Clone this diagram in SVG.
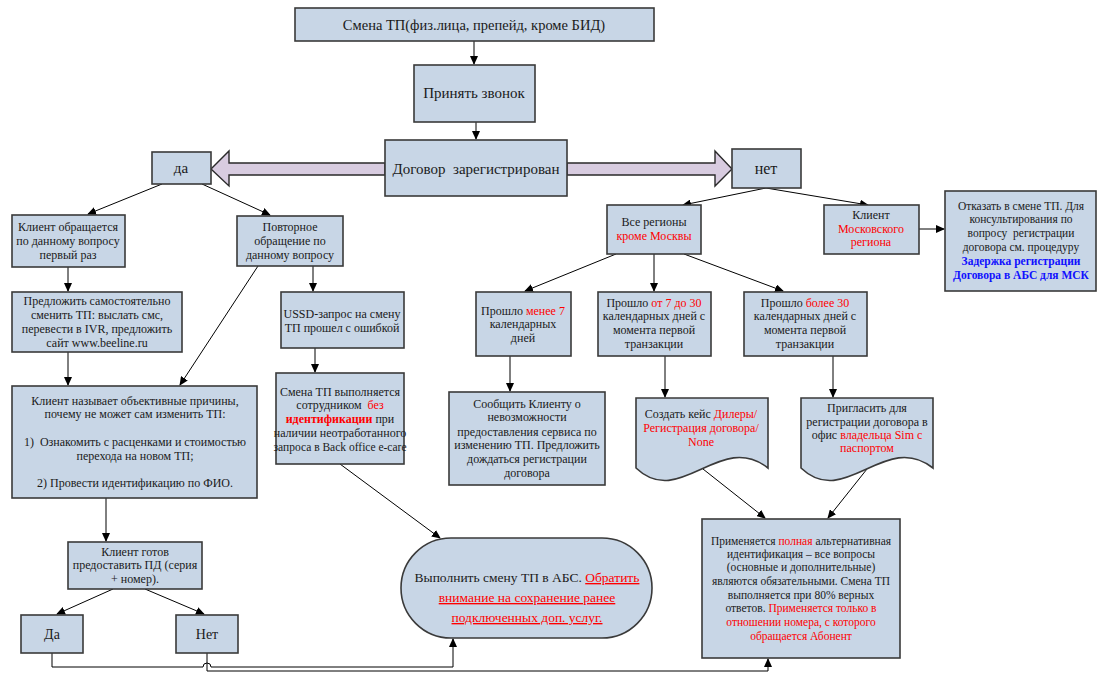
<svg xmlns="http://www.w3.org/2000/svg" width="1108" height="679" viewBox="0 0 1108 679">
<style>
.b{fill:#c8d6e6;stroke:#3a3a3a;stroke-width:1.6}
.ba{fill:#d8cce0;stroke:#2a2a2a;stroke-width:1.4}
.c{fill:none;stroke:#000;stroke-width:1}
text{font-family:"Liberation Serif","DejaVu Serif",serif;font-size:12px;fill:#1a1a1a;text-anchor:middle}
.p{white-space:pre}
.r{fill:#ff0000}
.bl{fill:#1010ff;font-weight:bold}
.rb{fill:#ff0000;font-weight:bold}
.u{text-decoration:underline}
</style>
<defs>
<marker id="ah" markerWidth="9" markerHeight="8" refX="8" refY="4" orient="auto" markerUnits="userSpaceOnUse">
<path d="M0,0 L9,4 L0,8 Z" fill="#000"/>
</marker>
</defs>
<rect width="1108" height="679" fill="#fff"/>
<g id="connectors">
<line class="c" x1="474" y1="41" x2="474" y2="64" marker-end="url(#ah)"/>
<line class="c" x1="476" y1="122" x2="476" y2="139" marker-end="url(#ah)"/>
<polygon class="ba" points="385,163 229,163 229,151 211,169 229,186 229,175 385,175"/>
<polygon class="ba" points="567,163 715,163 715,151 732,169 715,186 715,175 567,175"/>
<line class="c" x1="162" y1="184" x2="88" y2="214" marker-end="url(#ah)"/>
<line class="c" x1="202" y1="184" x2="270" y2="215" marker-end="url(#ah)"/>
<line class="c" x1="766" y1="188" x2="683" y2="205" marker-end="url(#ah)"/>
<line class="c" x1="766" y1="188" x2="868" y2="205" marker-end="url(#ah)"/>
<line class="c" x1="919" y1="229" x2="944" y2="229" marker-end="url(#ah)"/>
<line class="c" x1="68" y1="267" x2="68" y2="291" marker-end="url(#ah)"/>
<line class="c" x1="313" y1="266" x2="313" y2="291" marker-end="url(#ah)"/>
<line class="c" x1="258" y1="266" x2="180" y2="385" marker-end="url(#ah)"/>
<line class="c" x1="68" y1="352" x2="68" y2="385" marker-end="url(#ah)"/>
<line class="c" x1="315" y1="348" x2="315" y2="372" marker-end="url(#ah)"/>
<line class="c" x1="106" y1="498" x2="106" y2="541" marker-end="url(#ah)"/>
<line class="c" x1="113" y1="589" x2="57" y2="614" marker-end="url(#ah)"/>
<line class="c" x1="145" y1="589" x2="204" y2="614" marker-end="url(#ah)"/>
<line class="c" x1="340" y1="464" x2="440" y2="538" marker-end="url(#ah)"/>
<path class="c" d="M52,653 V667 H203 A4,4 0 0 1 211,667 H453 V639" marker-end="url(#ah)"/>
<path class="c" d="M207,653 V671 H768 V659" marker-end="url(#ah)"/>
<line class="c" x1="616" y1="254" x2="525" y2="291" marker-end="url(#ah)"/>
<line class="c" x1="654" y1="254" x2="654" y2="291" marker-end="url(#ah)"/>
<line class="c" x1="684" y1="254" x2="783" y2="291" marker-end="url(#ah)"/>
<line class="c" x1="510" y1="356" x2="510" y2="391" marker-end="url(#ah)"/>
<line class="c" x1="665" y1="356" x2="665" y2="397" marker-end="url(#ah)"/>
<line class="c" x1="833" y1="356" x2="833" y2="397" marker-end="url(#ah)"/>
<line class="c" x1="703" y1="469" x2="765" y2="518" marker-end="url(#ah)"/>
<line class="c" x1="867" y1="469" x2="828" y2="518" marker-end="url(#ah)"/>
</g>
<g id="n-title"><rect class="b" x="295" y="8" width="359" height="33"/><text x="474" y="30" style="font-size:14.5px">Смена ТП(физ.лица, препейд, кроме БИД)</text></g>
<g id="n-call"><rect class="b" x="414" y="65" width="121" height="57"/><text x="474" y="98" style="font-size:15px">Принять звонок</text></g>
<g id="n-reg"><rect class="b" x="385" y="140" width="182" height="56"/><text x="476" y="174" class="p" style="font-size:15px">Договор  зарегистрирован</text></g>
<g id="n-da"><rect class="b" x="152" y="152" width="59" height="32"/><text x="181" y="173" style="font-size:15px">да</text></g>
<g id="n-net"><rect class="b" x="732" y="149" width="69" height="39"/><text x="766" y="174" style="font-size:16px">нет</text></g>
<g id="n-regions"><rect class="b" x="607" y="205" width="94" height="49"/><text x="654" y="226">Все регионы</text><text x="654" y="240" class="r">кроме Москвы</text></g>
<g id="n-msk"><rect class="b" x="824" y="205" width="95" height="49"/><text x="871" y="219">Клиент</text><text x="871" y="233" class="r">Московского</text><text x="871" y="246" class="r">региона</text></g>
<g id="n-refuse"><rect class="b" x="945" y="191" width="151" height="100"/>
<text x="1021" y="210" style="font-size:11.5px">Отказать в смене ТП. Для</text>
<text x="1021" y="223" style="font-size:11.5px">консультирования по</text>
<text x="1021" y="237" class="p" style="font-size:11.5px">вопросу  регистрации</text>
<text x="1021" y="251" style="font-size:11.5px">договора см. процедуру</text>
<text x="1021" y="265" class="bl" style="font-size:11.5px">Задержка регистрации</text>
<text x="1021" y="279" class="bl" style="font-size:11.5px">Договора в АБС для МСК</text></g>
<g id="n-first"><rect class="b" x="12" y="215" width="113" height="52"/><text x="68" y="231">Клиент обращается</text><text x="68" y="245">по данному вопросу</text><text x="68" y="259">первый раз</text></g>
<g id="n-repeat"><rect class="b" x="237" y="216" width="106" height="50"/><text x="290" y="231">Повторное</text><text x="290" y="245">обращение по</text><text x="290" y="259">данному вопросу</text></g>
<g id="n-offer"><rect class="b" x="12" y="292" width="170" height="60"/><text x="97" y="305">Предложить самостоятельно</text><text x="97" y="319">сменить ТП: выслать смс,</text><text x="97" y="333">перевести в IVR, предложить</text><text x="97" y="347">сайт www.beeline.ru</text></g>
<g id="n-ussd"><rect class="b" x="281" y="292" width="123" height="56"/><text x="342" y="318">USSD-запрос на смену</text><text x="342" y="332">ТП прошел с ошибкой</text></g>
<g id="n-reasons"><rect class="b" x="12" y="386" width="245" height="112"/>
<text x="135" y="405">Клиент называет объективные причины,</text>
<text x="135" y="418">почему не может сам изменить ТП:</text>
<text x="135" y="446" class="p">1)  Ознакомить с расценками и стоимостью</text>
<text x="135" y="460">перехода на новом ТП;</text>
<text x="135" y="487">2) Провести идентификацию по ФИО.</text></g>
<g id="n-noid"><rect class="b" x="276" y="373" width="128" height="91"/>
<text x="340" y="396">Смена ТП выполняется</text>
<text x="340" y="409" class="p">сотрудником  <tspan class="r">без</tspan></text>
<text x="340" y="423"><tspan class="rb">идентификации</tspan> при</text>
<text x="340" y="437">наличии неотработанного</text>
<text x="340" y="451" style="font-size:11.5px">запроса в Back office e-care</text></g>
<g id="n-ready"><rect class="b" x="68" y="542" width="134" height="47"/><text x="135" y="556">Клиент готов</text><text x="135" y="569">предоставить ПД (серия</text><text x="135" y="583">+ номер).</text></g>
<g id="n-yes"><rect class="b" x="21" y="615" width="62" height="38"/><text x="52" y="639" style="font-size:14px">Да</text></g>
<g id="n-no"><rect class="b" x="176" y="615" width="62" height="38"/><text x="207" y="639" style="font-size:14px">Нет</text></g>
<g id="n-abs"><rect class="b" x="401" y="538" width="251" height="100" rx="50" ry="50"/>
<text x="527" y="582" style="font-size:13.5px">Выполнить смену ТП в АБС. <tspan class="r u">Обратить</tspan></text>
<text x="527" y="602" class="r u" style="font-size:13.5px">внимание на сохранение ранее</text>
<text x="527" y="622" class="r u" style="font-size:13.5px">подключенных доп. услуг.</text></g>
<g id="n-lt7"><rect class="b" x="476" y="292" width="95" height="64"/><text x="523" y="315">Прошло <tspan class="r">менее 7</tspan></text><text x="523" y="328">календарных</text><text x="523" y="342">дней</text></g>
<g id="n-inform"><rect class="b" x="449" y="392" width="156" height="93"/>
<text x="527" y="408">Сообщить Клиенту о</text>
<text x="527" y="421">невозможности</text>
<text x="527" y="436">предоставления сервиса по</text>
<text x="527" y="449">изменению ТП. Предложить</text>
<text x="527" y="463">дождаться регистрации</text>
<text x="527" y="477">договора</text></g>
<g id="n-7to30"><rect class="b" x="598" y="292" width="113" height="64"/><text x="654" y="307">Прошло <tspan class="r">от 7 до 30</tspan></text><text x="654" y="320">календарных дней с</text><text x="654" y="334">момента первой</text><text x="654" y="348">транзакции</text></g>
<g id="n-case"><path class="b" d="M636,398 H768 V468 C720,430 680,510 636,468 Z"/>
<text x="701" y="418">Создать кейс <tspan class="r">Дилеры/</tspan></text>
<text x="701" y="432" class="r">Регистрация договора/</text>
<text x="701" y="446" class="r">None</text></g>
<g id="n-gt30"><rect class="b" x="744" y="292" width="123" height="64"/><text x="805" y="307">Прошло <tspan class="r">более 30</tspan></text><text x="805" y="320">календарных дней с</text><text x="805" y="334">момента первой</text><text x="805" y="348">транзакции</text></g>
<g id="n-invite"><path class="b" d="M801,398 H933 V468 C885,430 845,510 801,468 Z"/>
<text x="867" y="412">Пригласить для</text>
<text x="867" y="426">регистрации договора в</text>
<text x="867" y="439">офис <tspan class="r">владельца Sim с</tspan></text>
<text x="867" y="452" class="r">паспортом</text></g>
<g id="n-fullid"><rect class="b" x="702" y="519" width="198" height="139"/>
<text x="801" y="545" style="font-size:11.5px">Применяется <tspan class="r">полная</tspan> альтернативная</text>
<text x="801" y="558" style="font-size:11.5px">идентификация – все вопросы</text>
<text x="801" y="571" style="font-size:11.5px">(основные и дополнительные)</text>
<text x="801" y="585" style="font-size:11.5px">являются обязательными. Смена ТП</text>
<text x="801" y="599" style="font-size:11.5px">выполняется при 80% верных</text>
<text x="801" y="612" style="font-size:11.5px">ответов. <tspan class="r">Применяется только в</tspan></text>
<text x="801" y="626" class="r" style="font-size:11.5px">отношении номера, с которого</text>
<text x="801" y="640" class="r" style="font-size:11.5px">обращается Абонент</text>
</g>
</svg>
